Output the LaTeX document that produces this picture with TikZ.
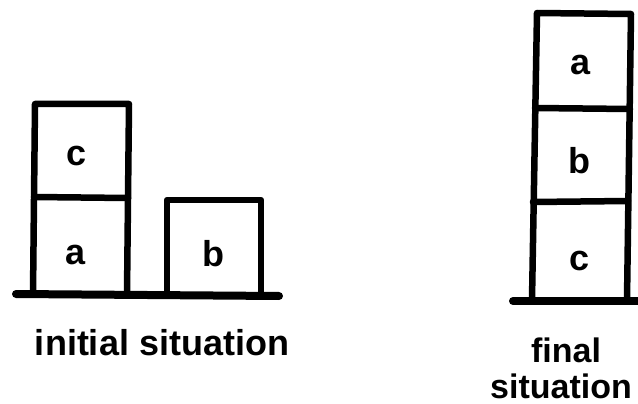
\documentclass[tikz,border=0pt]{standalone}
\usepackage{fontspec}
\setmainfont{Liberation Sans}
\begin{document}
\begin{tikzpicture}[x=1pt,y=-1pt,
  blk/.style={line width=6.5pt,line cap=round,line join=round},
  gnd/.style={line width=8pt,line cap=round},
  lbl/.style={font=\fontsize{36}{40}\bfseries\selectfont,inner sep=0pt,anchor=base},
  sml/.style={lbl,font=\fontsize{34}{38}\bfseries\selectfont}]
\useasboundingbox (0,0) rectangle (638,404);
% left stack
\draw[blk] (33,294) -- (35,104) -- (129,104) -- (127,294);
\draw[blk] (34,197) -- (128,198);
\draw[blk] (167,294) -- (167,200) -- (261,200) -- (261,294);
\draw[gnd] (16,294) -- (279,296);
\node[lbl] (lc) at (77,165) {c};
\node[lbl] (la) at (76,264) {a};
\node[lbl] (lb) at (213,266) {b};
\node[lbl] (init) at (162,355) {initial situation};
% right stack
\draw[blk] (532,300) -- (537,13) -- (631,14) -- (627,300);
\draw[blk] (535,108) -- (630,109);
\draw[blk] (533,202) -- (628,201);
\draw[gnd] (513,301) -- (645,301);
\node[lbl] (ra) at (581,75) {a};
\node[lbl] (rb) at (579,173) {b};
\node[lbl] (rc) at (580,270) {c};
\node[sml] (fin) at (566,362) {final};
\node[sml] (sit) at (561,398) {situation};
\end{tikzpicture}
\end{document}
